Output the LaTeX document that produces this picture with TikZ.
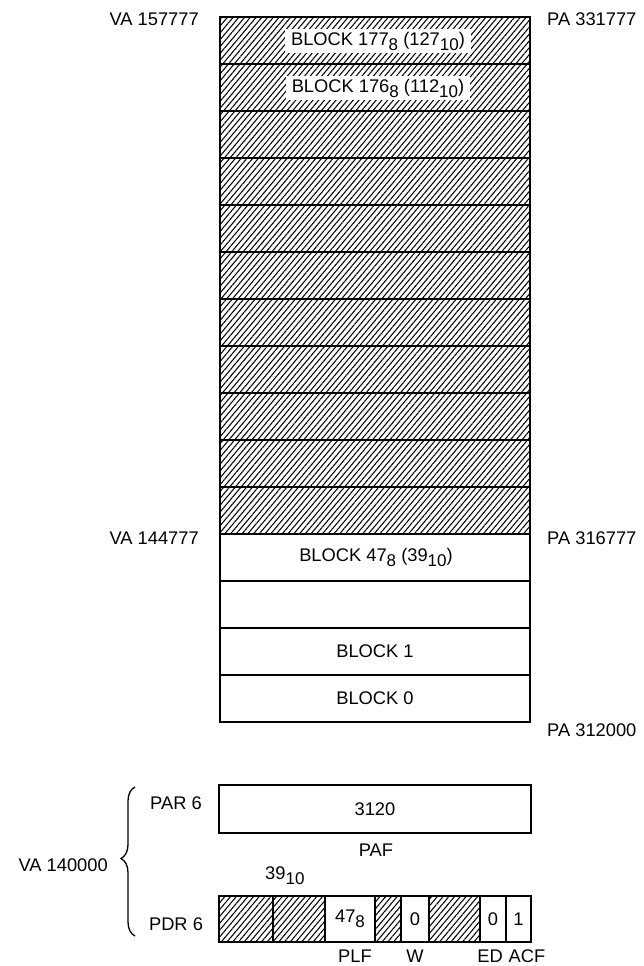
\documentclass[tikz,border=0pt]{standalone}
\usepackage{fontspec}
\setmainfont{Liberation Sans}
\usetikzlibrary{patterns.meta,decorations.pathreplacing}
\newcommand\lsub[1]{\raisebox{-5pt}{\fontsize{17}{17}\selectfont #1}}
\begin{document}
\begin{tikzpicture}[x=1pt,y=-1pt,
  font=\fontsize{18.3}{20}\selectfont,
  hatch/.style={pattern={Lines[angle=50,distance=4.4pt,line width=1.05pt]}},
  rowbox/.style={draw, line width=1.4pt, minimum width=310pt, minimum height=47pt, inner sep=0pt, outer sep=0pt},
  fieldbox/.style={draw, line width=1.4pt, minimum height=46pt, inner sep=0pt, outer sep=0pt},
  wlabel/.style={fill=white, inner xsep=6pt, inner ysep=3pt},
  txt/.style={inner sep=0pt},
  heavy/.style={line width=2.6pt}]
\useasboundingbox (0,0) rectangle (643,966);

% memory rows
\foreach \i in {0,...,10} {
  \node[rowbox, hatch] (r\i) at (375,{17+47*\i+23.5}) {};
}
\foreach \i in {11,...,14} {
  \node[rowbox] (r\i) at (375,{17+47*\i+23.5}) {};
}
\draw[heavy] (r0.north west) rectangle (r14.south east);

\node[wlabel] (b177) at (378,41) {BLOCK 177\lsub{8} (127\lsub{10})};
\node[wlabel] (b176) at (378,88) {BLOCK 176\lsub{8} (112\lsub{10})};
\node[txt] (b47) at (376,557) {BLOCK 47\lsub{8} (39\lsub{10})};
\node[txt] (b1) at (r13) {BLOCK 1};
\node[txt] (b0) at (r14) {BLOCK 0};

% address labels
\node[txt, anchor=east] (va1) at (199,19) {VA 157777};
\node[txt, anchor=east] (va2) at (199,538) {VA 144777};
\node[txt, anchor=west] (pa1) at (547,19) {PA 331777};
\node[txt, anchor=west] (pa2) at (547,538) {PA 316777};
\node[txt, anchor=west] (pa3) at (547,730) {PA 312000};

% PAR 6
\node[draw, heavy, minimum width=312pt, minimum height=48pt, inner sep=0pt] (par) at (375,809) {3120};
\node[txt] (paf) at (376,850) {PAF};
\node[txt] (parl) at (176,803) {PAR 6};

% PDR 6
\node[fieldbox, hatch, minimum width=54pt] (f1) at (246,919) {};
\node[fieldbox, hatch, minimum width=52pt] (f2) at (299,919) {};
\node[fieldbox, minimum width=50pt] (f3) at (350,919) {47\lsub{8}};
\node[fieldbox, hatch, minimum width=26pt] (f4) at (388,919) {};
\node[fieldbox, minimum width=28pt] (f5) at (415,919) {0};
\node[fieldbox, hatch, minimum width=51pt] (f6) at (454.5,919) {};
\node[fieldbox, minimum width=26pt] (f7) at (493,919) {0};
\node[fieldbox, minimum width=25pt] (f8) at (518.5,919) {1};
\draw[heavy] (f1.north west) rectangle (f8.south east);
\node[txt] (pdrl) at (176,924) {PDR 6};
\node[txt, anchor=west] (n39) at (265,876) {39\lsub{10}};

\node[txt] (plf) at (355,956.5) {PLF};
\node[txt] (w) at (415,956.5) {W};
\node[txt] (ed) at (490,956.5) {ED};
\node[txt] (acf) at (527,956.5) {ACF};

% brace
\coordinate (bt) at (135,787);
\coordinate (bb) at (135,936);
\draw[line width=1.3pt, decorate, decoration={brace, amplitude=14pt, aspect=0.52}] (bb) -- (bt);
\node[txt, anchor=east] (va3) at (108,865) {VA 140000};
\end{tikzpicture}
\end{document}
